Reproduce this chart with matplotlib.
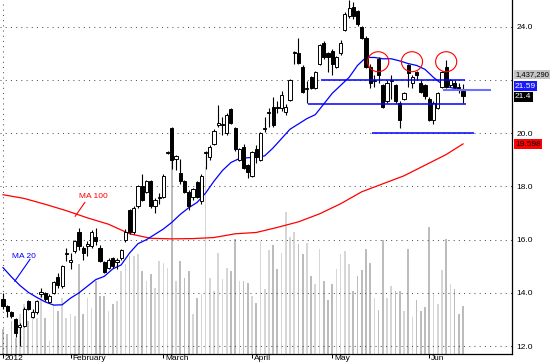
import numpy as np
import matplotlib
matplotlib.use('Agg')
import matplotlib.pyplot as plt
import matplotlib.transforms as mtransforms
from matplotlib.patches import Ellipse

plt.rcParams['font.family'] = ['Liberation Sans', 'DejaVu Sans']

# daily bars (index 0 = first bar of 2012 shown)
opens = [13.76, 13.5, 13.27, 13.0, 12.72, 12.75, 13.7, 13.1, 13.27, 13.95,
         14.0, 13.65, 14.0, 14.6, 14.25, 15.45, 15.15, 15.56, 16.3, 15.7,
         15.78, 15.75, 16.1, 15.7, 15.15, 14.95, 15.3, 15.15, 15.3, 16.0,
         17.1, 16.27, 17.25, 18.0, 17.8, 18.2, 17.25, 17.55, 17.6, 19.27,
         20.2, 19.05, 18.5, 18.2, 17.8, 17.6, 18.15, 17.45, 19.25, 19.1,
         19.6, 20.3, 20.3, 20.0, 20.9, 20.2, 19.0, 19.5, 18.8, 18.4,
         19.4, 19.0, 20.15, 20.75, 21.0, 21.0, 20.95, 20.8, 21.25, 23.0,
         23.0, 22.5, 21.65, 22.1, 21.7, 22.6, 23.4, 23.0, 23.1, 22.5,
         23.0, 23.9, 24.4, 24.75, 24.6, 24.0, 23.6, 22.5, 21.95, 22.8,
         21.8, 21.2, 21.95, 21.8, 21.15, 21.3, 22.55, 21.9, 22.3, 21.9,
         21.8, 21.3, 20.5, 20.95, 21.75, 22.5, 21.8, 21.9, 21.75, 21.6]
highs = [14.0, 13.55, 13.3, 13.05, 12.85, 13.45, 13.75, 13.4, 13.75, 14.2,
         14.05, 13.95, 14.45, 14.75, 15.05, 15.7, 15.5, 16.0, 16.45, 15.75,
         15.95, 16.35, 16.45, 15.8, 15.2, 15.3, 15.35, 15.3, 15.65, 16.4,
         17.15, 17.25, 18.05, 18.45, 18.25, 18.25, 17.55, 17.75, 18.45, 19.35,
         20.25, 19.2, 19.05, 18.25, 17.85, 17.95, 18.2, 18.45, 19.35, 19.55,
         20.15, 21.05, 20.6, 20.75, 20.95, 20.25, 19.45, 19.6, 18.85, 19.35,
         19.55, 20.05, 20.6, 20.95, 21.35, 21.2, 21.6, 21.1, 22.05, 23.1,
         23.6, 22.55, 21.95, 22.15, 22.35, 23.35, 23.45, 23.05, 23.15, 22.9,
         23.5, 24.55, 25.0, 24.95, 24.65, 24.05, 23.65, 22.6, 22.2, 22.85,
         21.85, 22.0, 22.2, 21.85, 21.2, 21.55, 22.6, 22.2, 22.35, 22.0,
         21.85, 21.35, 21.2, 21.55, 22.35, 22.75, 22.05, 22.0, 21.9, 21.85]
lows = [13.4, 13.1, 13.05, 12.35, 12.0, 12.7, 13.35, 13.05, 13.2, 13.85,
        13.7, 13.6, 13.95, 14.2, 14.2, 15.2, 14.9, 15.5, 15.6, 15.25,
        15.4, 15.7, 15.8, 15.15, 14.75, 14.9, 14.95, 14.9, 15.25, 15.9,
        16.2, 16.2, 17.2, 17.45, 17.75, 17.2, 17.0, 17.35, 17.55, 19.22,
        18.65, 18.6, 18.1, 17.75, 17.1, 17.5, 17.55, 17.35, 18.65, 19.0,
        19.55, 20.25, 19.95, 19.95, 20.35, 19.35, 18.95, 18.65, 18.3, 18.35,
        18.9, 18.95, 20.05, 20.25, 20.25, 20.75, 20.85, 20.7, 21.2, 22.6,
        22.6, 21.5, 21.15, 21.65, 21.65, 22.55, 22.8, 22.3, 22.2, 22.45,
        22.95, 23.85, 24.35, 24.3, 24.05, 23.55, 22.45, 21.7, 21.75, 21.9,
        20.95, 21.15, 21.3, 21.15, 20.2, 21.25, 21.75, 21.7, 22.0, 21.5,
        21.3, 20.45, 20.35, 20.9, 21.7, 21.7, 21.75, 21.7, 21.5, 21.15]
closes = [13.5, 13.3, 13.12, 12.5, 12.78, 13.4, 13.4, 13.27, 13.7, 14.02,
          13.76, 13.9, 14.4, 14.3, 15.0, 15.5, 15.25, 15.95, 15.75, 15.5,
          15.82, 16.3, 15.95, 15.2, 14.8, 15.25, 15.0, 15.22, 15.6, 16.3,
          16.27, 17.2, 18.0, 17.5, 18.2, 17.25, 17.5, 17.6, 18.4, 19.3,
          19.0, 19.15, 18.2, 17.8, 17.25, 17.9, 17.6, 18.4, 19.3, 19.5,
          20.1, 20.4, 20.35, 20.7, 20.4, 19.4, 19.4, 18.7, 18.55, 19.3,
          19.1, 20.0, 20.2, 20.8, 20.3, 20.95, 21.45, 21.0, 22.0, 23.05,
          22.65, 21.55, 21.7, 21.7, 22.3, 23.3, 22.85, 22.85, 22.6, 22.85,
          23.4, 24.5, 24.7, 24.4, 24.1, 23.6, 22.5, 21.9, 22.0, 22.2,
          21.0, 21.9, 22.0, 21.2, 20.5, 21.5, 22.25, 22.1, 22.2, 21.55,
          21.4, 20.5, 21.15, 21.5, 22.3, 21.75, 22.0, 21.75, 21.67, 21.4]
# volume, millions of shares
volume = [0.74, 0.59, 0.98, 0.47, 1.20, 1.50, 0.98, 1.29, 1.08, 1.89,
          1.08, 0.38, 1.50, 1.29, 1.68, 1.08, 1.20, 1.14, 2.71, 1.20,
          1.68, 1.38, 2.20, 1.74, 1.74, 1.29, 1.50, 1.59, 2.50, 2.71,
          2.95, 2.95, 3.01, 2.50, 2.20, 2.41, 1.98, 2.80, 2.74, 2.59,
          5.89, 2.20, 2.80, 2.29, 2.50, 1.20, 1.68, 1.80, 5.65, 2.29,
          1.89, 3.05, 2.26, 2.59, 2.50, 3.47, 2.20, 2.20, 2.14, 1.74,
          1.53, 3.41, 1.95, 3.14, 3.29, 2.56, 3.05, 4.29, 3.53, 3.68,
          3.32, 3.01, 3.35, 2.35, 2.11, 3.17, 2.20, 1.62, 2.11, 2.56,
          3.01, 3.11, 2.71, 1.89, 2.35, 2.53, 3.17, 2.74, 1.68, 1.32,
          3.44, 1.68, 2.05, 1.89, 1.89, 1.29, 3.17, 1.11, 1.62, 1.29,
          1.41, 3.83, 1.80, 1.50, 2.53, 3.47, 2.11, 1.95, 1.20, 1.437]

ma20_idx = [0, 2, 4, 6, 8, 10, 12, 14, 16, 18, 20, 22, 24, 26, 28, 30, 32, 34, 36, 38,
            40, 42, 44, 46, 48, 50, 52, 54, 56, 58, 60, 62, 64, 66, 68, 70, 72, 74, 76, 78,
            80, 82, 84, 86, 88, 90, 92, 94, 96, 98, 100, 102, 104, 106, 108, 109]
ma20 = [14.95, 14.6, 14.28, 14.02, 13.83, 13.66, 13.54, 13.55, 13.8, 14.0,
        14.25, 14.5, 14.62, 14.9, 15.05, 15.5, 15.85, 16.0, 16.2, 16.4,
        16.65, 16.95, 17.2, 17.4, 17.75, 18.2, 18.6, 18.9, 19.05, 19.08,
        19.1, 19.15, 19.45, 19.8, 20.15, 20.35, 20.55, 20.7, 21.1, 21.5,
        21.8, 22.1, 22.55, 22.85, 22.85, 22.8, 22.8, 22.72, 22.62, 22.55,
        22.4, 22.1, 21.85, 21.72, 21.65, 21.6]
ma100_idx = [0, 5, 10, 15, 20, 25, 30, 35, 40, 45, 50, 55, 60, 65, 70, 75, 80, 85,
             90, 95, 100, 105, 109]
ma100 = [17.69, 17.55, 17.33, 17.09, 16.82, 16.58, 16.22, 16.05, 16.03, 16.04, 16.08, 16.22,
         16.27, 16.46, 16.67, 16.97, 17.35, 17.8, 18.1, 18.4, 18.8, 19.2, 19.6]

month_idx = [0, 16, 38, 59, 78, 101]
month_labels = ['2012', 'February', 'March', 'April', 'May', 'Jun']
price_ticks = [12, 14, 16, 18, 20, 22, 24]

idx = np.arange(len(closes))
o = np.array(opens); c = np.array(closes)
up = c >= o

fig = plt.figure(figsize=(5.5, 3.64), dpi=100)
rect = [0, 10.5 / 364, 512 / 550, 353.5 / 364]
axv = fig.add_axes(rect, zorder=0)
ax = fig.add_axes(rect, zorder=1)
ax.patch.set_visible(False)
xlim = (-0.71, 120.6)

# volume
axv.bar(idx, volume, width=0.4, color=np.where(up, '#d6d6d6', '#bcbcbc'), linewidth=0)
axv.set_xlim(*xlim)
axv.set_ylim(0, 10.7)
axv.axis('off')

# grid
for p in price_ticks:
    ax.axhline(p, color='#555555', lw=0.75, ls=(0, (1, 4)), zorder=0)
ax.axvline(0, color='#555555', lw=0.75, ls=(0, (1, 4)), zorder=0)

# moving averages
ax.plot(ma100_idx, ma100, color='#ff0000', lw=0.9, zorder=2)
ax.plot(ma20_idx, ma20, color='#0000ff', lw=0.9, zorder=2)

# candles
ax.vlines(idx, lows, highs, color='black', lw=0.8, zorder=3)
body = np.maximum(np.abs(c - o), 0.035)
ax.bar(idx, body, bottom=np.minimum(o, c), width=0.75,
       color=np.where(up, 'white', 'black'), edgecolor='black', linewidth=0.7, zorder=4)

# drawn support lines
ax.hlines([22.0, 21.1, 20.0], [75.4, 72.3, 87.4], [109.5, 109.7, 111.6],
          color='#0000ff', lw=1.1, zorder=5)
ax.hlines(21.64, 104.3, 115.6, color='#7070ff', lw=1.5, zorder=5)

# circles on the right shoulder/heads
for cx in [88.9, 96.9, 105.0]:
    ax.add_patch(Ellipse((cx, 22.69), 5.0, 0.75, fill=False, ec='#ff0000', lw=0.8, zorder=6))

# MA labels
ax.plot([17.1, 19.4], [16.88, 17.4], color='#ff0000', lw=0.8)
ax.text(18.0, 17.63, 'MA 100', color='#ff0000', fontsize=6, va='center', ha='left')
ax.plot([2.8, 6.4], [14.44, 15.26], color='#0000ff', lw=0.8)
ax.text(2.1, 15.37, 'MA 20', color='#0000ff', fontsize=6, va='center', ha='left')

ax.set_xlim(*xlim)
ax.set_ylim(11.72, 25.01)

ax.yaxis.tick_right()
ax.set_yticks(price_ticks)
ax.set_yticklabels(['' if p == 22 else f'{p:.1f}' for p in price_ticks])
ax.tick_params(axis='y', length=0, pad=3, labelsize=6)

ax.set_xticks(month_idx)
ax.set_xticklabels(month_labels)
ax.tick_params(axis='x', length=3, width=0.7, pad=-2.2, labelsize=6, direction='out')
shift = mtransforms.ScaledTranslation(2 / 100, 0, fig.dpi_scale_trans)
for lab in ax.get_xticklabels():
    lab.set_horizontalalignment('left')
    lab.set_transform(lab.get_transform() + shift)

for s in ['top', 'left']:
    ax.spines[s].set_visible(False)
ax.spines['bottom'].set_linewidth(0.9)
ax.spines['right'].set_linewidth(0.9)

# last-value boxes on the right axis
tr = mtransforms.blended_transform_factory(ax.transAxes, ax.transData)
boxes = [(22.2, '1,437,290', '#c4c4c4', 'black', 5.5),
         (21.77, '21.59', '#1a1aff', 'white', 6),
         (21.37, '21.4', 'black', 'white', 6),
         (19.59, '19.598', '#ff0000', 'black', 6)]
for yv, txt, fc, tc, fs in boxes:
    ax.text(1.006, yv, txt, transform=tr, fontsize=fs, color=tc, va='center', ha='left',
            clip_on=False, zorder=7,
            bbox=dict(boxstyle='square,pad=0.15', fc=fc, ec='none'))

fig.savefig('out.png', dpi=100)
